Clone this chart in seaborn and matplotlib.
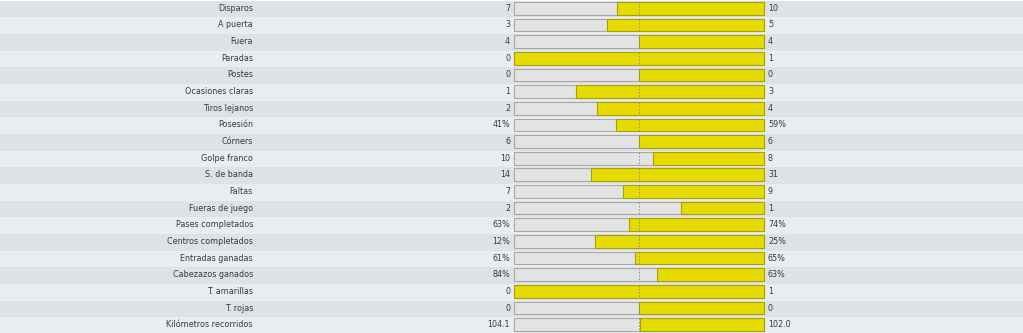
import numpy as np
import pandas as pd
import matplotlib as mpl
mpl.use("Agg")
import matplotlib.pyplot as plt
import seaborn as sns

# datos del partido
etiquetas = ["Disparos", "A puerta", "Fuera", "Paradas", "Postes", "Ocasiones claras",
             "Tiros lejanos", "Posesión", "Córners", "Golpe franco", "S. de banda", "Faltas",
             "Fueras de juego", "Pases completados", "Centros completados", "Entradas ganadas",
             "Cabezazos ganados", "T. amarillas", "T. rojas", "Kilómetros recorridos"]
local = [7, 3, 4, 0, 0, 1, 2, 41, 6, 10, 14, 7, 2, 63, 12, 61, 84, 0, 0, 104.1]
visitante = [10, 5, 4, 1, 0, 3, 4, 59, 6, 8, 31, 9, 1, 74, 25, 65, 63, 1, 0, 102.0]
texto_local = ["7", "3", "4", "0", "0", "1", "2", "41%", "6", "10", "14", "7", "2",
               "63%", "12%", "61%", "84%", "0", "0", "104.1"]
texto_visitante = ["10", "5", "4", "1", "0", "3", "4", "59%", "6", "8", "31", "9", "1",
                   "74%", "25%", "65%", "63%", "1", "0", "102.0"]

loc = np.array(local, dtype=float)
vis = np.array(visitante, dtype=float)
tot = loc + vis
frac = np.where(tot > 0, vis / np.where(tot > 0, tot, 1), 0.5)

df = pd.DataFrame({"stat": etiquetas, "full": 1.0, "frac": frac})

sns.set_theme(style="white")
plt.rcParams['font.family'] = ['DejaVu Sans']

fig = plt.figure(figsize=(10.23, 3.33), dpi=100)
ax = fig.add_axes([0, 0, 1, 1])

# barra de 513 a 764 px, eje invertido (0 a la derecha)
x0, x1 = 513.5, 764.0
w = x1 - x0
ax.set_xlim((x1 - 0) / w, (x1 - 1023) / w)
ax.set_ylim(len(etiquetas) - 0.45, -0.45)

for i in range(len(etiquetas)):
    ax.axhspan(i - 0.45, i + 0.55, color="#dce2e5" if i % 2 == 0 else "#e9edf0",
               lw=0, zorder=0)

sns.barplot(data=df, x="full", y="stat", orient="h", color="#e3e3e3",
            edgecolor="#a8a8a8", linewidth=0.8, width=0.76, saturation=1, ax=ax, zorder=2)
sns.barplot(data=df, x="frac", y="stat", orient="h", color="#e6db00",
            edgecolor="#aaa000", linewidth=0.8, width=0.76, saturation=1, ax=ax, zorder=3)

for i in range(len(etiquetas)):
    ax.plot([0.5, 0.5], [i - 0.38, i + 0.38], color="#8a8a8a", lw=0.6,
            ls=(0, (2, 2)), zorder=4)

trans = mpl.transforms.blended_transform_factory(fig.transFigure, ax.transData)
for i, lab in enumerate(etiquetas):
    ax.text(253 / 1023, i, lab, transform=trans, ha="right", va="center",
            fontsize=5.8, color="#3a3a3a")
    ax.text(510 / 1023, i, texto_local[i], transform=trans, ha="right", va="center",
            fontsize=5.8, color="#3a3a3a")
    ax.text(768 / 1023, i, texto_visitante[i], transform=trans, ha="left", va="center",
            fontsize=5.8, color="#3a3a3a")

ax.set_axis_off()
fig.savefig("out.png", dpi=100)
